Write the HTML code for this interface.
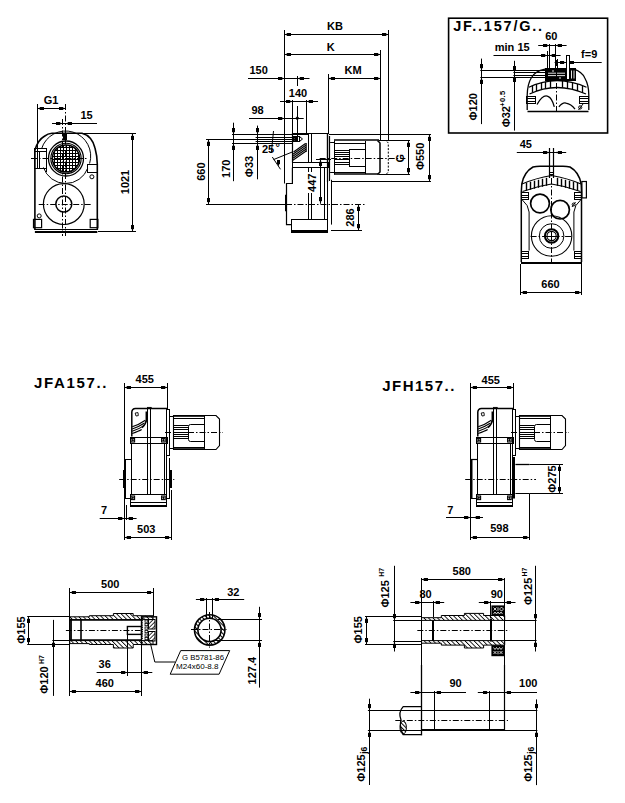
<!DOCTYPE html>
<html><head><meta charset="utf-8"><style>
html,body{margin:0;padding:0;background:#fff;}
svg{display:block;}
svg text{font-family:"Liberation Sans",sans-serif;fill:#000;stroke:none;}
.f{fill:#000;stroke:none;}
</style></head><body>
<svg width="625" height="803" viewBox="0 0 625 803">
<defs>
<pattern id="grid" width="3" height="3" patternUnits="userSpaceOnUse" x="0" y="0"><rect x="0" y="0" width="3" height="1" fill="#000"/><rect x="0" y="0" width="1" height="3" fill="#000"/></pattern>
<pattern id="hatch" width="3.2" height="3.2" patternUnits="userSpaceOnUse" patternTransform="rotate(-45)"><line x1="0" y1="0" x2="0" y2="3.2" stroke="#000" stroke-width="1.7"/></pattern>
<pattern id="hatch2" width="2.8" height="2.8" patternUnits="userSpaceOnUse" patternTransform="rotate(45)"><line x1="0" y1="0" x2="0" y2="2.8" stroke="#000" stroke-width="1.6"/></pattern>
<pattern id="hatch3" width="3" height="3" patternUnits="userSpaceOnUse" patternTransform="rotate(-45)"><line x1="0" y1="0" x2="0" y2="3" stroke="#000" stroke-width="1.9"/></pattern>
</defs>
<rect width="625" height="803" fill="#fff"/>
<g stroke="#000" stroke-width="1" fill="none" shape-rendering="auto">
<text x="51" y="104.0" font-size="11" text-anchor="middle" font-weight="bold">G1</text>
<line x1="37.5" y1="108.5" x2="65.5" y2="108.5"/>
<rect x="40.0" y="107.0" width="4.0" height="3.0" class="f" shape-rendering="crispEdges"/>
<polygon points="37.5,108.5 40.0,107.6 40.0,109.4" class="f"/>
<rect x="59.0" y="107.0" width="4.0" height="3.0" class="f" shape-rendering="crispEdges"/>
<polygon points="65.5,108.5 63.0,107.6 63.0,109.4" class="f"/>
<line x1="37.5" y1="104" x2="37.5" y2="150"/>
<text x="86.6" y="119.4" font-size="11" text-anchor="middle" font-weight="bold">15</text>
<line x1="52" y1="123.5" x2="97" y2="123.5"/>
<rect x="56.0" y="122.0" width="4.0" height="3.0" class="f" shape-rendering="crispEdges"/>
<polygon points="62.5,123.5 60.0,122.6 60.0,124.4" class="f"/>
<rect x="68.0" y="122.0" width="4.0" height="3.0" class="f" shape-rendering="crispEdges"/>
<polygon points="65.5,123.5 68.0,122.6 68.0,124.4" class="f"/>
<line x1="62.5" y1="119" x2="62.5" y2="236" stroke-dasharray="6 2 1.5 2"/>
<line x1="65.5" y1="104" x2="65.5" y2="236" stroke-dasharray="6 2 1.5 2"/>
<path d="M34.9,230 L34.9,150 Q38,140 44,136.5 Q48,133.5 52,133.3 L82,133.3 Q92,136 95,148 Q97.2,156 97.3,164 L97.3,230" stroke-width="1.6"/>
<path d="M41.6,148.7 A24,24 0 0 1 89.6,163.5"/>
<path d="M43.4,167.4 A23.5,23.5 0 0 0 87.8,168"/>
<rect x="34.5" y="148.5" width="12.0" height="20.0"/>
<line x1="37.5" y1="148.7" x2="37.5" y2="168.3"/>
<line x1="39.5" y1="151.1" x2="39.5" y2="168.3"/>
<line x1="34.9" y1="151.5" x2="46.4" y2="151.5"/>
<rect x="87.5" y="164.5" width="10.0" height="8.0"/>
<line x1="34.9" y1="168.5" x2="46.4" y2="168.5"/>
<line x1="46.5" y1="168.3" x2="46.5" y2="172"/>
<circle cx="66" cy="158.5" r="17.5" stroke-width="1.3"/>
<circle cx="66" cy="158.5" r="15.2" stroke-width="1.1"/>
<circle cx="66" cy="158.5" r="13.6" fill="url(#grid)" stroke="none" shape-rendering="crispEdges"/>
<circle cx="66" cy="158.5" r="13.6" stroke-width="1.5"/>
<rect x="63.5" y="133.5" width="3.0" height="6.0" fill="#000"/>
<line x1="31" y1="158.5" x2="87.2" y2="158.5" stroke-dasharray="6 2 1.5 2"/>
<circle cx="63.8" cy="204.1" r="20.4" stroke-width="1.2"/>
<circle cx="63.8" cy="204.1" r="8" stroke-width="1.5"/>
<line x1="38.7" y1="204.5" x2="91.9" y2="204.5" stroke-dasharray="6 2 1.5 2"/>
<rect x="33.5" y="219.4" width="8.1" height="8.3" stroke-width="1.2"/>
<rect x="90.2" y="219.4" width="7.7" height="8.3" stroke-width="1.2"/>
<line x1="34.9" y1="229.5" x2="97.3" y2="229.5"/>
<line x1="34.9" y1="232.0" x2="97.3" y2="232.0" stroke-width="2"/>
<circle cx="91.9" cy="176.8" r="2"/>
<circle cx="39.2" cy="215.9" r="2"/>
<line x1="66" y1="133.5" x2="136" y2="133.5"/>
<line x1="98" y1="231.5" x2="136" y2="231.5"/>
<line x1="132.5" y1="133" x2="132.5" y2="231.8"/>
<rect x="131.0" y="135.5" width="3.0" height="4.0" class="f" shape-rendering="crispEdges"/>
<polygon points="132.5,133.0 131.6,135.5 133.4,135.5" class="f"/>
<rect x="131.0" y="225.3" width="3.0" height="4.0" class="f" shape-rendering="crispEdges"/>
<polygon points="132.5,231.8 131.6,229.3 133.4,229.3" class="f"/>
<text transform="translate(125,182) rotate(-90)" x="0" y="4.0" font-size="11" text-anchor="middle" font-weight="bold">1021</text>
<text x="335" y="30.2" font-size="11" text-anchor="middle" font-weight="bold">KB</text>
<line x1="284.5" y1="34.5" x2="388.5" y2="34.5"/>
<rect x="287.0" y="33.0" width="4.0" height="3.0" class="f" shape-rendering="crispEdges"/>
<polygon points="284.5,34.5 287.0,33.6 287.0,35.4" class="f"/>
<rect x="382.0" y="33.0" width="4.0" height="3.0" class="f" shape-rendering="crispEdges"/>
<polygon points="388.5,34.5 386.0,33.6 386.0,35.4" class="f"/>
<text x="330.7" y="51.4" font-size="11" text-anchor="middle" font-weight="bold">K</text>
<line x1="284.5" y1="54.5" x2="380.6" y2="54.5"/>
<rect x="287.0" y="53.0" width="4.0" height="3.0" class="f" shape-rendering="crispEdges"/>
<polygon points="284.5,54.5 287.0,53.6 287.0,55.4" class="f"/>
<rect x="374.1" y="53.0" width="4.0" height="3.0" class="f" shape-rendering="crispEdges"/>
<polygon points="380.6,54.5 378.1,53.6 378.1,55.4" class="f"/>
<text x="353" y="74.3" font-size="11" text-anchor="middle" font-weight="bold">KM</text>
<line x1="328" y1="78.5" x2="380.6" y2="78.5"/>
<rect x="330.5" y="77.0" width="4.0" height="3.0" class="f" shape-rendering="crispEdges"/>
<polygon points="328.0,78.5 330.5,77.6 330.5,79.4" class="f"/>
<rect x="374.1" y="77.0" width="4.0" height="3.0" class="f" shape-rendering="crispEdges"/>
<polygon points="380.6,78.5 378.1,77.6 378.1,79.4" class="f"/>
<text x="258.6" y="74.2" font-size="11" text-anchor="middle" font-weight="bold">150</text>
<line x1="248" y1="78.5" x2="309.5" y2="78.5"/>
<rect x="278.0" y="77.0" width="4.0" height="3.0" class="f" shape-rendering="crispEdges"/>
<polygon points="284.5,78.5 282.0,77.6 282.0,79.4" class="f"/>
<rect x="299.8" y="77.0" width="4.0" height="3.0" class="f" shape-rendering="crispEdges"/>
<polygon points="297.3,78.5 299.8,77.6 299.8,79.4" class="f"/>
<text x="298" y="97.0" font-size="11" text-anchor="middle" font-weight="bold">140</text>
<line x1="280" y1="101.5" x2="318" y2="101.5"/>
<rect x="286.2" y="100.0" width="4.0" height="3.0" class="f" shape-rendering="crispEdges"/>
<polygon points="292.7,101.5 290.2,100.6 290.2,102.4" class="f"/>
<rect x="309.1" y="100.0" width="4.0" height="3.0" class="f" shape-rendering="crispEdges"/>
<polygon points="306.6,101.5 309.1,100.6 309.1,102.4" class="f"/>
<text x="257.6" y="114.3" font-size="11" text-anchor="middle" font-weight="bold">98</text>
<line x1="249" y1="118.5" x2="303.7" y2="118.5"/>
<rect x="278.0" y="117.0" width="4.0" height="3.0" class="f" shape-rendering="crispEdges"/>
<polygon points="284.5,118.5 282.0,117.6 282.0,119.4" class="f"/>
<circle cx="297.3" cy="118.2" r="1.2" fill="#000"/>
<line x1="284.5" y1="30" x2="284.5" y2="183.5"/>
<line x1="388.5" y1="30" x2="388.5" y2="140.5"/>
<line x1="380.5" y1="50" x2="380.5" y2="140.5"/>
<line x1="328.5" y1="74" x2="328.5" y2="134"/>
<line x1="292.5" y1="100" x2="292.5" y2="134"/>
<line x1="306.5" y1="100" x2="306.5" y2="134"/>
<line x1="297.5" y1="76" x2="297.5" y2="86"/>
<line x1="297.5" y1="106" x2="297.5" y2="141"/>
<line x1="206" y1="139.5" x2="296" y2="139.5"/>
<line x1="206" y1="204.5" x2="286" y2="204.5"/>
<line x1="208.5" y1="139.5" x2="208.5" y2="204.3"/>
<rect x="207.0" y="142.0" width="3.0" height="4.0" class="f" shape-rendering="crispEdges"/>
<polygon points="208.5,139.5 207.6,142.0 209.4,142.0" class="f"/>
<rect x="207.0" y="197.8" width="3.0" height="4.0" class="f" shape-rendering="crispEdges"/>
<polygon points="208.5,204.3 207.6,201.8 209.4,201.8" class="f"/>
<text transform="translate(200.6,171.6) rotate(-90)" x="0" y="4.0" font-size="11" text-anchor="middle" font-weight="bold">660</text>
<line x1="233.5" y1="122.7" x2="233.5" y2="181.2"/>
<rect x="232.0" y="128.0" width="3.0" height="4.0" class="f" shape-rendering="crispEdges"/>
<polygon points="233.5,134.5 232.6,132.0 234.4,132.0" class="f"/>
<rect x="232.0" y="146.0" width="3.0" height="4.0" class="f" shape-rendering="crispEdges"/>
<polygon points="233.5,143.5 232.6,146.0 234.4,146.0" class="f"/>
<text transform="translate(225.5,168.8) rotate(-90)" x="0" y="4.0" font-size="11" text-anchor="middle" font-weight="bold">170</text>
<line x1="257.5" y1="125.6" x2="257.5" y2="179.3"/>
<rect x="256.0" y="128.0" width="3.0" height="4.0" class="f" shape-rendering="crispEdges"/>
<polygon points="257.5,134.5 256.6,132.0 258.4,132.0" class="f"/>
<rect x="256.0" y="146.0" width="3.0" height="4.0" class="f" shape-rendering="crispEdges"/>
<polygon points="257.5,143.5 256.6,146.0 258.4,146.0" class="f"/>
<text transform="translate(248.6,166.5) rotate(-90)" x="0" y="4.0" font-size="11" text-anchor="middle" font-weight="bold">Φ33</text>
<line x1="232" y1="134.5" x2="308" y2="134.5" stroke-width="1.2"/>
<line x1="232" y1="143.5" x2="293" y2="143.5" stroke-width="1.2"/>
<line x1="255.6" y1="137.5" x2="296" y2="137.5"/>
<line x1="255.6" y1="141.5" x2="296" y2="141.5"/>
<rect x="293.5" y="136.5" width="6.0" height="5.0"/>
<rect x="294.5" y="137" width="2.5" height="4" stroke-width="0.5" fill="#000"/>
<path d="M299.5,136.5 L302.5,139 L299.5,141.5"/>
<text x="268" y="153.3" font-size="11" text-anchor="middle" font-weight="bold">25</text>
<text x="277.8" y="150.6" font-size="11" text-anchor="middle" font-weight="bold">°</text>
<line x1="273.5" y1="131" x2="271.3" y2="153"/>
<path d="M272.3,157 L280.5,169.3"/>
<rect x="277.0" y="160.0" width="3.0" height="4.0" class="f" shape-rendering="crispEdges"/>
<polygon points="278.5,166.5 277.6,164.0 279.4,164.0" class="f"/>
<line x1="273.5" y1="159.6" x2="292" y2="152.1"/>
<path d="M292.5,162.6 L292.5,133.5 L327.5,133.5 L327.5,162.6" stroke-width="1.2"/>
<line x1="308.5" y1="133.5" x2="308.5" y2="162.6"/>
<line x1="311.5" y1="133.5" x2="311.5" y2="162.6"/>
<path d="M292.5,160.5 L306.2,151 M292.5,158.5 L306.2,149 M292.5,156.5 L306.2,147 M292.5,154.5 L306.2,145 M293.5,152 L305.5,143.5 M306.2,143 L306.2,152" stroke-width="1.1"/>
<rect x="292.5" y="162.5" width="36.0" height="5.0"/>
<path d="M292.4,167.8 L292.4,183.5 L286.5,183.5 L286.5,224.6 L291,224.6" stroke-width="1.2"/>
<line x1="286.0" y1="194.7" x2="286.0" y2="211.2" stroke-width="2"/>
<line x1="327.5" y1="167.8" x2="327.5" y2="224.6"/>
<line x1="331.5" y1="179.8" x2="331.5" y2="224.6"/>
<line x1="308.5" y1="167.8" x2="308.5" y2="219"/>
<line x1="311.5" y1="167.8" x2="311.5" y2="219"/>
<line x1="324.5" y1="167.8" x2="324.5" y2="219"/>
<rect x="291.5" y="219.5" width="36.0" height="13.0"/>
<line x1="291" y1="231.0" x2="327.6" y2="231.0" stroke-width="2.2"/>
<line x1="286" y1="204.5" x2="365" y2="204.5" stroke-dasharray="6 2 1.5 2"/>
<line x1="327.5" y1="134" x2="327.5" y2="182.1" stroke-width="1.2"/>
<line x1="329.5" y1="136" x2="329.5" y2="181" stroke-width="1.2"/>
<line x1="330.1" y1="142.5" x2="334" y2="142.5"/>
<line x1="330.1" y1="172.5" x2="334" y2="172.5"/>
<line x1="334" y1="140.0" x2="379" y2="140.0" stroke-width="1.6"/>
<line x1="334" y1="174.0" x2="379" y2="174.0" stroke-width="1.6"/>
<line x1="334.5" y1="140.5" x2="334.5" y2="174.5"/>
<line x1="334.5" y1="143.5" x2="365.9" y2="143.5"/>
<line x1="334.5" y1="172.5" x2="365.9" y2="172.5"/>
<line x1="365.5" y1="141" x2="365.5" y2="174"/>
<path d="M377.5,140.5 L380,143 L380,172 L377.5,174.5" stroke-width="1.5"/>
<path d="M380.5,140.5 L386,140.5 L388.3,143 L388.3,172 L386,174.5 L380.5,174.5" stroke-dasharray="2 1.5"/>
<rect x="349.5" y="149.5" width="16.0" height="17.0"/>
<line x1="334.6" y1="150.5" x2="349.7" y2="150.5"/>
<line x1="334.6" y1="152.5" x2="349.7" y2="152.5"/>
<line x1="334.6" y1="154.5" x2="349.7" y2="154.5"/>
<line x1="334.6" y1="156.5" x2="349.7" y2="156.5"/>
<line x1="334.6" y1="159.5" x2="349.7" y2="159.5"/>
<line x1="334.6" y1="162.5" x2="349.7" y2="162.5"/>
<line x1="334.6" y1="164.5" x2="349.7" y2="164.5"/>
<line x1="319.7" y1="158.5" x2="405.4" y2="158.5" stroke-dasharray="6 2 1.5 2"/>
<line x1="329" y1="134.5" x2="431" y2="134.5"/>
<line x1="331" y1="181.5" x2="431" y2="181.5"/>
<line x1="408.5" y1="140.5" x2="408.5" y2="174.5"/>
<rect x="407.0" y="143.0" width="3.0" height="4.0" class="f" shape-rendering="crispEdges"/>
<polygon points="408.5,140.5 407.6,143.0 409.4,143.0" class="f"/>
<rect x="407.0" y="168.0" width="3.0" height="4.0" class="f" shape-rendering="crispEdges"/>
<polygon points="408.5,174.5 407.6,172.0 409.4,172.0" class="f"/>
<line x1="379" y1="140.5" x2="410" y2="140.5"/>
<line x1="379" y1="174.5" x2="410" y2="174.5"/>
<text transform="translate(399.7,158.1) rotate(-90)" x="0" y="4.0" font-size="11" text-anchor="middle" font-weight="bold">G</text>
<line x1="429.5" y1="134" x2="429.5" y2="181.4"/>
<rect x="428.0" y="136.5" width="3.0" height="4.0" class="f" shape-rendering="crispEdges"/>
<polygon points="429.5,134.0 428.6,136.5 430.4,136.5" class="f"/>
<rect x="428.0" y="174.9" width="3.0" height="4.0" class="f" shape-rendering="crispEdges"/>
<polygon points="429.5,181.4 428.6,178.9 430.4,178.9" class="f"/>
<text transform="translate(420.4,156.4) rotate(-90)" x="0" y="4.0" font-size="11" text-anchor="middle" font-weight="bold">Φ550</text>
<line x1="320.5" y1="158.9" x2="320.5" y2="203.7"/>
<rect x="319.0" y="161.7" width="3.0" height="4.0" class="f" shape-rendering="crispEdges"/>
<polygon points="320.5,159.2 319.6,161.7 321.4,161.7" class="f"/>
<rect x="319.0" y="197.2" width="3.0" height="4.0" class="f" shape-rendering="crispEdges"/>
<polygon points="320.5,203.7 319.6,201.2 321.4,201.2" class="f"/>
<line x1="316" y1="159.5" x2="331" y2="159.5"/>
<rect x="307" y="172" width="9" height="21" fill="#fff" stroke="none"/>
<text transform="translate(311.9,182.8) rotate(-90)" x="0" y="4.0" font-size="11" text-anchor="middle" font-weight="bold">447</text>
<line x1="331" y1="230.5" x2="362" y2="230.5"/>
<line x1="358.5" y1="204.3" x2="358.5" y2="230.5"/>
<rect x="357.0" y="206.8" width="3.0" height="4.0" class="f" shape-rendering="crispEdges"/>
<polygon points="358.5,204.3 357.6,206.8 359.4,206.8" class="f"/>
<rect x="357.0" y="224.0" width="3.0" height="4.0" class="f" shape-rendering="crispEdges"/>
<polygon points="358.5,230.5 357.6,228.0 359.4,228.0" class="f"/>
<text transform="translate(349.6,217.5) rotate(-90)" x="0" y="4.0" font-size="11" text-anchor="middle" font-weight="bold">286</text>
<rect x="448.6" y="18.2" width="159.0" height="114.8" stroke-width="1.6"/>
<text x="498.6" y="31.2" font-size="14.5" text-anchor="middle" letter-spacing="1.8" style="stroke-width:0.8px" font-weight="bold">JF..157/G..</text>
<text x="551.3" y="39.8" font-size="11" text-anchor="middle" font-weight="bold">60</text>
<line x1="538.2" y1="45.5" x2="566.6" y2="45.5"/>
<rect x="542.9" y="44.0" width="4.0" height="3.0" class="f" shape-rendering="crispEdges"/>
<polygon points="549.4,45.5 546.9,44.6 546.9,46.4" class="f"/>
<rect x="558.1" y="44.0" width="4.0" height="3.0" class="f" shape-rendering="crispEdges"/>
<polygon points="555.6,45.5 558.1,44.6 558.1,46.4" class="f"/>
<text x="512.2" y="50.8" font-size="11" text-anchor="middle" font-weight="bold">min 15</text>
<line x1="493.5" y1="55.5" x2="560.6" y2="55.5"/>
<rect x="540.9" y="54.0" width="4.0" height="3.0" class="f" shape-rendering="crispEdges"/>
<polygon points="547.4,55.5 544.9,54.6 544.9,56.4" class="f"/>
<rect x="551.9" y="54.0" width="4.0" height="3.0" class="f" shape-rendering="crispEdges"/>
<polygon points="549.4,55.5 551.9,54.6 551.9,56.4" class="f"/>
<text x="589.2" y="58.1" font-size="11" text-anchor="middle" font-weight="bold">f=9</text>
<line x1="554.6" y1="62.5" x2="601.7" y2="62.5"/>
<rect x="559.7" y="61.0" width="4.0" height="3.0" class="f" shape-rendering="crispEdges"/>
<polygon points="566.2,62.5 563.7,61.6 563.7,63.4" class="f"/>
<rect x="569.5" y="61.0" width="4.0" height="3.0" class="f" shape-rendering="crispEdges"/>
<polygon points="567.0,62.5 569.5,61.6 569.5,63.4" class="f"/>
<line x1="547.5" y1="51" x2="547.5" y2="68.4"/>
<line x1="549.5" y1="44" x2="549.5" y2="68.4"/>
<line x1="555.5" y1="44" x2="555.5" y2="68.4"/>
<line x1="557.5" y1="59" x2="557.5" y2="68.4"/>
<line x1="480.3" y1="70.5" x2="545.8" y2="70.5"/>
<line x1="480.3" y1="77.5" x2="545.8" y2="77.5"/>
<line x1="513.4" y1="72.5" x2="545.8" y2="72.5"/>
<line x1="513.4" y1="75.5" x2="545.8" y2="75.5"/>
<line x1="481.5" y1="58.6" x2="481.5" y2="124.1"/>
<rect x="480.0" y="63.9" width="3.0" height="4.0" class="f" shape-rendering="crispEdges"/>
<polygon points="481.5,70.4 480.6,67.9 482.4,67.9" class="f"/>
<rect x="480.0" y="79.7" width="3.0" height="4.0" class="f" shape-rendering="crispEdges"/>
<polygon points="481.5,77.2 480.6,79.7 482.4,79.7" class="f"/>
<line x1="514.5" y1="60.8" x2="514.5" y2="130.6"/>
<rect x="513.0" y="66.3" width="3.0" height="4.0" class="f" shape-rendering="crispEdges"/>
<polygon points="514.5,72.8 513.6,70.3 515.4,70.3" class="f"/>
<rect x="513.0" y="77.7" width="3.0" height="4.0" class="f" shape-rendering="crispEdges"/>
<polygon points="514.5,75.2 513.6,77.7 515.4,77.7" class="f"/>
<text transform="translate(473.4,106.8) rotate(-90)" x="0" y="4.0" font-size="11" text-anchor="middle" font-weight="bold">Φ120</text>
<text transform="translate(506.1,116.7) rotate(-90)" x="0" y="4.0" font-size="11" text-anchor="middle" font-weight="bold">Φ32</text>
<text transform="translate(502.2,98.6) rotate(-90)" x="0" y="2.7" font-size="7.5" text-anchor="middle" letter-spacing="0.4" font-weight="bold">+0.5</text>
<path d="M527.2,110 L527.2,95 Q527.5,84 531.2,78 Q535,71 545,69.2 L574.2,69.2 Q582,72 584.8,78 Q588.8,85 588.8,95 L588.8,110" stroke-width="1.3"/>
<line x1="527.5" y1="111.5" x2="588.5" y2="111.5" stroke-width="1.3"/>
<rect x="545.5" y="68.5" width="30.0" height="12.0" fill="#000"/>
<path d="M548,73.2 H565 M548,75.6 H565 M571.5,70.5 V78.5 M574,70.5 V78.5 M553,70 V72 M560,77 V79" stroke="#fff" stroke-width="0.9"/>
<rect x="566.5" y="55.5" width="3.0" height="24.0" fill="#fff"/>
<path d="M528.9,87.2 Q556.6,74 586.5,87.2" stroke-width="1.2"/>
<path d="M529.5,94 Q556.6,81 586,94" stroke-width="1.3"/>
<line x1="532.5" y1="85.5" x2="532.5" y2="92.5" stroke-width="1.3"/>
<line x1="536.5" y1="84.0" x2="536.5" y2="91.0" stroke-width="1.3"/>
<line x1="541.5" y1="82.6" x2="541.5" y2="89.6" stroke-width="1.3"/>
<line x1="545.5" y1="81.6" x2="545.5" y2="88.6" stroke-width="1.3"/>
<line x1="550.5" y1="80.9" x2="550.5" y2="87.9" stroke-width="1.3"/>
<line x1="562.5" y1="80.7" x2="562.5" y2="87.7" stroke-width="1.3"/>
<line x1="567.5" y1="81.4" x2="567.5" y2="88.4" stroke-width="1.3"/>
<line x1="572.5" y1="82.5" x2="572.5" y2="89.5" stroke-width="1.3"/>
<line x1="577.5" y1="84.0" x2="577.5" y2="91.0" stroke-width="1.3"/>
<line x1="582.5" y1="86.0" x2="582.5" y2="93.0" stroke-width="1.3"/>
<rect x="526.5" y="96.5" width="9.0" height="7.0"/>
<line x1="526.6" y1="98.5" x2="535.2" y2="98.5"/>
<line x1="526.6" y1="101.5" x2="535.2" y2="101.5"/>
<rect x="579.5" y="96.5" width="9.0" height="7.0"/>
<line x1="579.6" y1="98.5" x2="588.2" y2="98.5"/>
<line x1="579.6" y1="101.5" x2="588.2" y2="101.5"/>
<path d="M537,104.5 Q543,94 548,96.4 Q552,98 554.3,106.8" stroke-width="1.3"/>
<path d="M558.9,106.8 Q563,102 566,103.2 Q571,104 575,109.1" stroke-width="1.3"/>
<circle cx="580.2" cy="107.4" r="1.6"/>
<line x1="578.5" y1="110" x2="583" y2="104"/>
<line x1="556.5" y1="60" x2="556.5" y2="114" stroke-dasharray="6 2 1.5 2"/>
<text x="525.8" y="148.0" font-size="11" text-anchor="middle" font-weight="bold">45</text>
<line x1="516.8" y1="152.5" x2="566.2" y2="152.5"/>
<rect x="543.3" y="151.0" width="4.0" height="3.0" class="f" shape-rendering="crispEdges"/>
<polygon points="549.8,152.5 547.3,151.6 547.3,153.4" class="f"/>
<rect x="557.5" y="151.0" width="4.0" height="3.0" class="f" shape-rendering="crispEdges"/>
<polygon points="555.0,152.5 557.5,151.6 557.5,153.4" class="f"/>
<line x1="549.5" y1="148" x2="549.5" y2="178" stroke-width="1.2"/>
<line x1="553.5" y1="148" x2="553.5" y2="178" stroke-width="1.2"/>
<line x1="549.5" y1="172.5" x2="553.9" y2="172.5"/>
<line x1="549.5" y1="174.5" x2="553.9" y2="174.5"/>
<path d="M521.3,262 L521.3,192 L521.8,184 Q524,172 533,167 Q536,166.2 540,166.2 L563,166.2 Q567,166.2 570,167 Q579,172 581.2,184 L581.5,192 L581.5,262" stroke-width="1.5"/>
<path d="M522,184 Q536,178 551.5,175.5 Q567,178 581,184" stroke-width="1.1"/>
<path d="M522.5,191.5 Q537,186 551.5,184 Q566,186 580.5,191.5" stroke-width="1.1"/>
<line x1="526.5" y1="182.7" x2="526.5" y2="190.7" stroke-width="1.4"/>
<line x1="530.5" y1="181.7" x2="530.5" y2="189.7" stroke-width="1.4"/>
<line x1="534.5" y1="180.7" x2="534.5" y2="188.7" stroke-width="1.4"/>
<line x1="538.5" y1="179.8" x2="538.5" y2="187.8" stroke-width="1.4"/>
<line x1="542.5" y1="178.8" x2="542.5" y2="186.8" stroke-width="1.4"/>
<line x1="546.5" y1="177.8" x2="546.5" y2="185.8" stroke-width="1.4"/>
<line x1="557.5" y1="177.8" x2="557.5" y2="185.8" stroke-width="1.4"/>
<line x1="561.5" y1="178.8" x2="561.5" y2="186.8" stroke-width="1.4"/>
<line x1="565.5" y1="179.8" x2="565.5" y2="187.8" stroke-width="1.4"/>
<line x1="569.5" y1="180.7" x2="569.5" y2="188.7" stroke-width="1.4"/>
<line x1="573.5" y1="181.7" x2="573.5" y2="189.7" stroke-width="1.4"/>
<line x1="577.5" y1="182.7" x2="577.5" y2="190.7" stroke-width="1.4"/>
<rect x="521.5" y="192.5" width="7.0" height="7.0"/>
<line x1="521.6" y1="195.5" x2="528.5" y2="195.5"/>
<line x1="521.6" y1="197.5" x2="528.5" y2="197.5"/>
<rect x="574.5" y="192.5" width="7.0" height="7.0"/>
<line x1="574.4" y1="195.5" x2="581.3" y2="195.5"/>
<line x1="574.4" y1="197.5" x2="581.3" y2="197.5"/>
<rect x="521.5" y="251.5" width="7.0" height="7.0"/>
<line x1="521.6" y1="253.5" x2="528.5" y2="253.5"/>
<line x1="521.6" y1="256.5" x2="528.5" y2="256.5"/>
<rect x="574.5" y="251.5" width="7.0" height="7.0"/>
<line x1="574.4" y1="253.5" x2="581.3" y2="253.5"/>
<line x1="574.4" y1="256.5" x2="581.3" y2="256.5"/>
<path d="M522.4,200 Q528.5,205 529.1,212 L529.1,250.6"/>
<path d="M580.6,200 Q574.5,205 573.9,212 L573.9,250.6"/>
<circle cx="540" cy="203.5" r="9.4" stroke-width="1.7"/>
<circle cx="560.1" cy="209.7" r="9.3" stroke-width="1.7"/>
<circle cx="551.6" cy="236" r="20.2" stroke-width="1.1"/>
<circle cx="551.6" cy="236" r="12.3"/>
<circle cx="551.6" cy="236" r="6.7" stroke-width="2"/>
<circle cx="551.6" cy="236" r="4.6" stroke-width="1.1"/>
<line x1="547" y1="236.5" x2="556.2" y2="236.5"/>
<line x1="551.5" y1="231.4" x2="551.5" y2="240.6"/>
<line x1="530.6" y1="236.5" x2="573" y2="236.5" stroke-dasharray="6 2 1.5 2"/>
<line x1="551.5" y1="178" x2="551.5" y2="262" stroke-dasharray="6 2 1.5 2"/>
<rect x="581.9" y="181.5" width="4.5" height="16.4" stroke-width="1.2"/>
<circle cx="573.7" cy="204.5" r="1.5"/>
<line x1="572" y1="207" x2="575.5" y2="202"/>
<line x1="521" y1="263.0" x2="582" y2="263.0" stroke-width="2"/>
<line x1="520.5" y1="264" x2="520.5" y2="295"/>
<line x1="581.5" y1="264" x2="581.5" y2="295"/>
<line x1="520.6" y1="292.5" x2="581.9" y2="292.5"/>
<rect x="523.1" y="291.0" width="4.0" height="3.0" class="f" shape-rendering="crispEdges"/>
<polygon points="520.6,292.5 523.1,291.6 523.1,293.4" class="f"/>
<rect x="575.4" y="291.0" width="4.0" height="3.0" class="f" shape-rendering="crispEdges"/>
<polygon points="581.9,292.5 579.4,291.6 579.4,293.4" class="f"/>
<text x="550.5" y="288.2" font-size="11" text-anchor="middle" font-weight="bold">660</text>
<text x="71" y="388.2" font-size="15" text-anchor="middle" letter-spacing="1.65" style="stroke-width:0.8px" font-weight="bold">JFA157..</text>
<text x="419" y="390.7" font-size="15" text-anchor="middle" letter-spacing="1.5" style="stroke-width:0.8px" font-weight="bold">JFH157..</text>
<path d="M131.8,436.4 L131.8,412 Q132,408.6 135.5,408.4 L167,408.4" stroke-width="1.5"/>
<rect x="147.4" y="407.2" width="4.0" height="1.4" stroke-width="0.5" fill="#000"/>
<line x1="147.5" y1="407.5" x2="147.5" y2="494"/>
<line x1="150.5" y1="407.5" x2="150.5" y2="494"/>
<path d="M135.2,413 L138,412.6 L138.3,415.6 L136,416 Z" stroke-width="0.9"/>
<path d="M132.2,426.8 Q139,424.6 145.3,420.2" stroke-width="1.1"/>
<path d="M132.2,429.0 Q139,426.8 144.1,423.3" stroke-width="1.1"/>
<path d="M132.2,431.2 Q139,429.0 142.9,426.4" stroke-width="1.1"/>
<path d="M132.2,433.4 Q139,431.2 141.7,429.5" stroke-width="1.1"/>
<path d="M146.4,411.5 L146.4,420 Q146,424 142,427.5" stroke-width="1.7"/>
<rect x="130.5" y="437.5" width="37.0" height="6.0"/>
<line x1="131.5" y1="443.8" x2="131.5" y2="494.5"/>
<line x1="164.5" y1="443.8" x2="164.5" y2="494.5"/>
<line x1="166.5" y1="443" x2="166.5" y2="458"/>
<rect x="130.5" y="494.5" width="36.0" height="12.0"/>
<line x1="130" y1="506.0" x2="166.4" y2="506.0" stroke-width="2"/>
<line x1="130" y1="502.5" x2="166.4" y2="502.5"/>
<rect x="131.0" y="438.4" width="3.6" height="3.6" stroke-width="1.1"/>
<circle cx="132.8" cy="440.2" r="0.7" fill="#000"/>
<rect x="161.6" y="438.4" width="3.6" height="3.6" stroke-width="1.1"/>
<circle cx="163.4" cy="440.2" r="0.7" fill="#000"/>
<rect x="131.0" y="496.0" width="3.6" height="3.6" stroke-width="1.1"/>
<circle cx="132.8" cy="497.8" r="0.7" fill="#000"/>
<rect x="161.6" y="496.0" width="3.6" height="3.6" stroke-width="1.1"/>
<circle cx="163.4" cy="497.8" r="0.7" fill="#000"/>
<line x1="166.5" y1="409" x2="166.5" y2="456"/>
<line x1="169.5" y1="409" x2="169.5" y2="456"/>
<line x1="166.6" y1="409.5" x2="169.2" y2="409.5"/>
<line x1="166.6" y1="455.5" x2="169.2" y2="455.5"/>
<line x1="169.5" y1="416.5" x2="173.2" y2="416.5"/>
<line x1="169.5" y1="448.5" x2="173.2" y2="448.5"/>
<path d="M173.5,415.5 L216,415.5 L219.5,419 L219.5,445.5 L216,449.5 L173.5,449.5 Z" stroke-width="1.1"/>
<line x1="173.5" y1="416.0" x2="204.5" y2="416.0" stroke-width="1.6"/>
<line x1="173.5" y1="449.0" x2="204.5" y2="449.0" stroke-width="1.6"/>
<line x1="173.5" y1="418.5" x2="204.5" y2="418.5"/>
<line x1="173.5" y1="447.5" x2="204.5" y2="447.5"/>
<line x1="204.5" y1="415.5" x2="204.5" y2="449.5"/>
<path d="M204.5,424.5 L190.5,424.5 Q188.5,424.5 188.5,426.5 L188.5,439.5 Q188.5,441.5 190.5,441.5 L204.5,441.5"/>
<line x1="174" y1="425.5" x2="188.5" y2="425.5"/>
<line x1="174" y1="427.5" x2="188.5" y2="427.5"/>
<line x1="174" y1="429.5" x2="188.5" y2="429.5"/>
<line x1="174" y1="432.5" x2="188.5" y2="432.5"/>
<line x1="174" y1="434.5" x2="188.5" y2="434.5"/>
<line x1="174" y1="436.5" x2="188.5" y2="436.5"/>
<line x1="174" y1="438.5" x2="188.5" y2="438.5"/>
<line x1="165" y1="432.5" x2="223" y2="432.5" stroke-dasharray="6 2 1.5 2"/>
<line x1="119.2" y1="479.5" x2="174.3" y2="479.5" stroke-dasharray="6 2 1.5 2"/>
<path d="M477.8,436.4 L477.8,412 Q478,408.6 481.5,408.4 L513,408.4" stroke-width="1.5"/>
<rect x="493.4" y="407.2" width="4.0" height="1.4" stroke-width="0.5" fill="#000"/>
<line x1="493.5" y1="407.5" x2="493.5" y2="494"/>
<line x1="496.5" y1="407.5" x2="496.5" y2="494"/>
<path d="M481.2,413 L484,412.6 L484.3,415.6 L482,416 Z" stroke-width="0.9"/>
<path d="M478.2,426.8 Q485,424.6 491.3,420.2" stroke-width="1.1"/>
<path d="M478.2,429.0 Q485,426.8 490.1,423.3" stroke-width="1.1"/>
<path d="M478.2,431.2 Q485,429.0 488.9,426.4" stroke-width="1.1"/>
<path d="M478.2,433.4 Q485,431.2 487.7,429.5" stroke-width="1.1"/>
<path d="M492.4,411.5 L492.4,420 Q492,424 488,427.5" stroke-width="1.7"/>
<rect x="476.5" y="437.5" width="37.0" height="6.0"/>
<line x1="477.5" y1="443.8" x2="477.5" y2="494.5"/>
<line x1="510.5" y1="443.8" x2="510.5" y2="494.5"/>
<line x1="512.5" y1="443" x2="512.5" y2="458"/>
<rect x="476.5" y="494.5" width="36.0" height="12.0"/>
<line x1="476" y1="506.0" x2="512.4" y2="506.0" stroke-width="2"/>
<line x1="476" y1="502.5" x2="512.4" y2="502.5"/>
<rect x="477.0" y="438.4" width="3.6" height="3.6" stroke-width="1.1"/>
<circle cx="478.8" cy="440.2" r="0.7" fill="#000"/>
<rect x="507.6" y="438.4" width="3.6" height="3.6" stroke-width="1.1"/>
<circle cx="509.4" cy="440.2" r="0.7" fill="#000"/>
<rect x="477.0" y="496.0" width="3.6" height="3.6" stroke-width="1.1"/>
<circle cx="478.8" cy="497.8" r="0.7" fill="#000"/>
<rect x="507.6" y="496.0" width="3.6" height="3.6" stroke-width="1.1"/>
<circle cx="509.4" cy="497.8" r="0.7" fill="#000"/>
<line x1="512.5" y1="409" x2="512.5" y2="456"/>
<line x1="515.5" y1="409" x2="515.5" y2="456"/>
<line x1="512.6" y1="409.5" x2="515.2" y2="409.5"/>
<line x1="512.6" y1="455.5" x2="515.2" y2="455.5"/>
<line x1="515.5" y1="416.5" x2="519.2" y2="416.5"/>
<line x1="515.5" y1="448.5" x2="519.2" y2="448.5"/>
<path d="M519.5,415.5 L562,415.5 L565.5,419 L565.5,445.5 L562,449.5 L519.5,449.5 Z" stroke-width="1.1"/>
<line x1="519.5" y1="416.0" x2="550.5" y2="416.0" stroke-width="1.6"/>
<line x1="519.5" y1="449.0" x2="550.5" y2="449.0" stroke-width="1.6"/>
<line x1="519.5" y1="418.5" x2="550.5" y2="418.5"/>
<line x1="519.5" y1="447.5" x2="550.5" y2="447.5"/>
<line x1="550.5" y1="415.5" x2="550.5" y2="449.5"/>
<path d="M550.5,424.5 L536.5,424.5 Q534.5,424.5 534.5,426.5 L534.5,439.5 Q534.5,441.5 536.5,441.5 L550.5,441.5"/>
<line x1="520" y1="425.5" x2="534.5" y2="425.5"/>
<line x1="520" y1="427.5" x2="534.5" y2="427.5"/>
<line x1="520" y1="429.5" x2="534.5" y2="429.5"/>
<line x1="520" y1="432.5" x2="534.5" y2="432.5"/>
<line x1="520" y1="434.5" x2="534.5" y2="434.5"/>
<line x1="520" y1="436.5" x2="534.5" y2="436.5"/>
<line x1="520" y1="438.5" x2="534.5" y2="438.5"/>
<line x1="511" y1="432.5" x2="569" y2="432.5" stroke-dasharray="6 2 1.5 2"/>
<line x1="465.2" y1="479.5" x2="536" y2="479.5" stroke-dasharray="6 2 1.5 2"/>
<line x1="125.5" y1="459" x2="125.5" y2="499"/>
<rect x="123" y="470" width="3" height="18" class="f"/>
<line x1="125.5" y1="459.5" x2="131.5" y2="459.5"/>
<line x1="125.5" y1="498.5" x2="131.5" y2="498.5"/>
<line x1="166.5" y1="456" x2="166.5" y2="499"/>
<line x1="169.5" y1="458" x2="169.5" y2="499"/>
<rect x="169" y="470" width="3" height="18" class="f"/>
<line x1="166.5" y1="498.5" x2="169.5" y2="498.5"/>
<line x1="124.5" y1="383" x2="124.5" y2="540"/>
<line x1="167.5" y1="383" x2="167.5" y2="409"/>
<line x1="124.5" y1="387.5" x2="167.6" y2="387.5"/>
<rect x="127.0" y="386.0" width="4.0" height="3.0" class="f" shape-rendering="crispEdges"/>
<polygon points="124.5,387.5 127.0,386.6 127.0,388.4" class="f"/>
<rect x="161.1" y="386.0" width="4.0" height="3.0" class="f" shape-rendering="crispEdges"/>
<polygon points="167.6,387.5 165.1,386.6 165.1,388.4" class="f"/>
<text x="144.7" y="383.4" font-size="11" text-anchor="middle" font-weight="bold">455</text>
<text x="104" y="514.0" font-size="11" text-anchor="middle" font-weight="bold">7</text>
<line x1="99.7" y1="518.5" x2="136.6" y2="518.5"/>
<rect x="118.0" y="517.0" width="4.0" height="3.0" class="f" shape-rendering="crispEdges"/>
<polygon points="124.5,518.5 122.0,517.6 122.0,519.4" class="f"/>
<rect x="129.0" y="517.0" width="4.0" height="3.0" class="f" shape-rendering="crispEdges"/>
<polygon points="126.5,518.5 129.0,517.6 129.0,519.4" class="f"/>
<line x1="126.5" y1="505" x2="126.5" y2="520"/>
<line x1="171.5" y1="490" x2="171.5" y2="540"/>
<line x1="124.5" y1="537.5" x2="171" y2="537.5"/>
<rect x="127.0" y="536.0" width="4.0" height="3.0" class="f" shape-rendering="crispEdges"/>
<polygon points="124.5,537.5 127.0,536.6 127.0,538.4" class="f"/>
<rect x="164.5" y="536.0" width="4.0" height="3.0" class="f" shape-rendering="crispEdges"/>
<polygon points="171.0,537.5 168.5,536.6 168.5,538.4" class="f"/>
<text x="146.3" y="533.2" font-size="11" text-anchor="middle" font-weight="bold">503</text>
<rect x="470" y="459" width="2.5" height="40" class="f"/>
<line x1="470.5" y1="459.5" x2="477.5" y2="459.5" stroke-width="1.2"/>
<line x1="470.5" y1="498.5" x2="477.5" y2="498.5"/>
<line x1="512.5" y1="456" x2="512.5" y2="499"/>
<line x1="514.0" y1="457" x2="514.0" y2="498.5" stroke-width="2"/>
<line x1="515.4" y1="464.5" x2="529.5" y2="464.5" stroke-width="1.3"/>
<line x1="515.4" y1="493.5" x2="529.5" y2="493.5"/>
<line x1="529.5" y1="464.5" x2="563" y2="464.5"/>
<line x1="529.5" y1="493.5" x2="563" y2="493.5"/>
<line x1="529.5" y1="493.5" x2="529.5" y2="540"/>
<line x1="559.5" y1="464.7" x2="559.5" y2="493.5"/>
<rect x="558.0" y="467.0" width="3.0" height="4.0" class="f" shape-rendering="crispEdges"/>
<polygon points="559.5,464.5 558.6,467.0 560.4,467.0" class="f"/>
<rect x="558.0" y="487.0" width="3.0" height="4.0" class="f" shape-rendering="crispEdges"/>
<polygon points="559.5,493.5 558.6,491.0 560.4,491.0" class="f"/>
<text transform="translate(552.2,479) rotate(-90)" x="0" y="4.0" font-size="11" text-anchor="middle" font-weight="bold">Φ275</text>
<line x1="470.5" y1="383" x2="470.5" y2="540"/>
<line x1="513.5" y1="383" x2="513.5" y2="409"/>
<line x1="470.6" y1="387.5" x2="513.4" y2="387.5"/>
<rect x="473.1" y="386.0" width="4.0" height="3.0" class="f" shape-rendering="crispEdges"/>
<polygon points="470.6,387.5 473.1,386.6 473.1,388.4" class="f"/>
<rect x="506.9" y="386.0" width="4.0" height="3.0" class="f" shape-rendering="crispEdges"/>
<polygon points="513.4,387.5 510.9,386.6 510.9,388.4" class="f"/>
<text x="490.7" y="383.9" font-size="11" text-anchor="middle" font-weight="bold">455</text>
<text x="450.3" y="514.3" font-size="11" text-anchor="middle" font-weight="bold">7</text>
<line x1="446" y1="517.5" x2="483" y2="517.5"/>
<rect x="464.1" y="516.0" width="4.0" height="3.0" class="f" shape-rendering="crispEdges"/>
<polygon points="470.6,517.5 468.1,516.6 468.1,518.4" class="f"/>
<rect x="475.9" y="516.0" width="4.0" height="3.0" class="f" shape-rendering="crispEdges"/>
<polygon points="473.4,517.5 475.9,516.6 475.9,518.4" class="f"/>
<line x1="470.6" y1="537.5" x2="529.5" y2="537.5"/>
<rect x="473.1" y="536.0" width="4.0" height="3.0" class="f" shape-rendering="crispEdges"/>
<polygon points="470.6,537.5 473.1,536.6 473.1,538.4" class="f"/>
<rect x="523.0" y="536.0" width="4.0" height="3.0" class="f" shape-rendering="crispEdges"/>
<polygon points="529.5,537.5 527.0,536.6 527.0,538.4" class="f"/>
<text x="499.4" y="532.4" font-size="11" text-anchor="middle" font-weight="bold">598</text>
<text x="110.2" y="587.5" font-size="11" text-anchor="middle" font-weight="bold">500</text>
<line x1="69.5" y1="588" x2="69.5" y2="696"/>
<line x1="153.5" y1="588" x2="153.5" y2="616"/>
<line x1="69.8" y1="592.5" x2="153" y2="592.5"/>
<rect x="72.3" y="591.0" width="4.0" height="3.0" class="f" shape-rendering="crispEdges"/>
<polygon points="69.8,592.5 72.3,591.6 72.3,593.4" class="f"/>
<rect x="146.5" y="591.0" width="4.0" height="3.0" class="f" shape-rendering="crispEdges"/>
<polygon points="153.0,592.5 150.5,591.6 150.5,593.4" class="f"/>
<path d="M69.8,616.8 L89.4,616.8 L89.4,615.7 L113.4,615.7 L113.4,613.5 L133.2,613.5 L133.2,615.7 L153,615.7 L153,619.6 L69.8,619.6 Z" fill="url(#hatch)"/>
<path d="M69.8,643.6 L89.4,643.6 L89.4,644.5 L113.4,644.5 L113.4,648 L133.2,648 L133.2,644.5 L153,644.5 L153,640.6 L69.8,640.6 Z" fill="url(#hatch)"/>
<line x1="69.8" y1="620.0" x2="141.5" y2="620.0" stroke-width="1.6"/>
<line x1="69.8" y1="640.0" x2="141.5" y2="640.0" stroke-width="1.6"/>
<line x1="71.0" y1="619.6" x2="71.0" y2="640.6" stroke-width="1.8"/>
<line x1="81.0" y1="619.6" x2="81.0" y2="640.6" stroke-width="1.6"/>
<line x1="65.9" y1="630.5" x2="140.6" y2="630.5" stroke-dasharray="6 2 1.5 2"/>
<rect x="127.4" y="626.5" width="14.1" height="7.9" stroke-width="1.4"/>
<rect x="141.5" y="616.8" width="15.0" height="27.7" stroke-width="1.4"/>
<rect x="148.5" y="619.5" width="6.5" height="9.5" fill="url(#hatch2)" stroke-width="1"/>
<rect x="148.5" y="631.5" width="6.5" height="9.5" fill="url(#hatch2)" stroke-width="1"/>
<line x1="142.5" y1="618" x2="142.5" y2="643" stroke-dasharray="1 1.2"/>
<rect x="145" y="620" width="2.8" height="2.2" stroke-width="0.8"/>
<rect x="145" y="623.5" width="2.8" height="2.2" stroke-width="0.8"/>
<rect x="145" y="627" width="2.8" height="2.2" stroke-width="0.8"/>
<rect x="145" y="630.5" width="2.8" height="2.2" stroke-width="0.8"/>
<rect x="145" y="634" width="2.8" height="2.2" stroke-width="0.8"/>
<rect x="145" y="637.5" width="2.8" height="2.2" stroke-width="0.8"/>
<line x1="27.2" y1="616.5" x2="69.8" y2="616.5"/>
<line x1="27.2" y1="644.5" x2="69.8" y2="644.5"/>
<line x1="28.5" y1="616.2" x2="28.5" y2="644.2"/>
<rect x="27.0" y="618.7" width="3.0" height="4.0" class="f" shape-rendering="crispEdges"/>
<polygon points="28.5,616.2 27.6,618.7 29.4,618.7" class="f"/>
<rect x="27.0" y="637.7" width="3.0" height="4.0" class="f" shape-rendering="crispEdges"/>
<polygon points="28.5,644.2 27.6,641.7 29.4,641.7" class="f"/>
<text transform="translate(20.6,630) rotate(-90)" x="0" y="4.0" font-size="11" text-anchor="middle" font-weight="bold">Φ155</text>
<line x1="52.3" y1="640.5" x2="69.8" y2="640.5"/>
<line x1="53.5" y1="619.9" x2="53.5" y2="695.9"/>
<rect x="52.0" y="643.0" width="3.0" height="4.0" class="f" shape-rendering="crispEdges"/>
<polygon points="53.5,640.5 52.6,643.0 54.4,643.0" class="f"/>
<text transform="translate(44.2,680) rotate(-90)" x="0" y="4.0" font-size="11" text-anchor="middle" font-weight="bold">Φ120</text>
<text transform="translate(41,659.5) rotate(-90)" x="0" y="2.5" font-size="7" text-anchor="middle" font-weight="bold">H7</text>
<line x1="127.5" y1="634.4" x2="127.5" y2="676"/>
<line x1="141.5" y1="644.5" x2="141.5" y2="696"/>
<line x1="96.6" y1="672.5" x2="152.3" y2="672.5"/>
<rect x="120.9" y="671.0" width="4.0" height="3.0" class="f" shape-rendering="crispEdges"/>
<polygon points="127.4,672.5 124.9,671.6 124.9,673.4" class="f"/>
<rect x="144.0" y="671.0" width="4.0" height="3.0" class="f" shape-rendering="crispEdges"/>
<polygon points="141.5,672.5 144.0,671.6 144.0,673.4" class="f"/>
<text x="104.7" y="667.5" font-size="11" text-anchor="middle" font-weight="bold">36</text>
<line x1="69.8" y1="691.5" x2="141.5" y2="691.5"/>
<rect x="72.3" y="690.0" width="4.0" height="3.0" class="f" shape-rendering="crispEdges"/>
<polygon points="69.8,691.5 72.3,690.6 72.3,692.4" class="f"/>
<rect x="135.0" y="690.0" width="4.0" height="3.0" class="f" shape-rendering="crispEdges"/>
<polygon points="141.5,691.5 139.0,690.6 139.0,692.4" class="f"/>
<text x="104.7" y="686.8" font-size="11" text-anchor="middle" font-weight="bold">460</text>
<path d="M150.7,644.5 L154.8,662 L175,662"/>
<path d="M180.7,650.6 L229.7,650.6 L219.1,674.2 L170.2,674.2 Z"/>
<text x="182" y="660.2" font-size="8" textLength="42" lengthAdjust="spacingAndGlyphs" style="stroke-width:0.15px">G B5781-86</text>
<text x="176" y="669.3" font-size="8" textLength="42.5" lengthAdjust="spacingAndGlyphs" style="stroke-width:0.15px">M24x60-8.8</text>
<path d="M224.9,629.9 A15.2,15.2 0 1 1 194.5,629.9 A15.2,15.2 0 1 1 224.9,629.9 Z M221.1,629.9 A11.6,11.6 0 1 0 197.9,629.9 A11.6,11.6 0 1 0 221.1,629.9 Z" fill="url(#hatch3)" fill-rule="evenodd" stroke-width="1.6"/>
<line x1="191" y1="629.5" x2="226.5" y2="629.5" stroke-dasharray="6 2 1.5 2"/>
<line x1="209.5" y1="612" x2="209.5" y2="647.6" stroke-dasharray="6 2 1.5 2"/>
<line x1="206.5" y1="598" x2="206.5" y2="618.5"/>
<line x1="212.5" y1="598" x2="212.5" y2="618.5"/>
<line x1="195.9" y1="599.5" x2="244.2" y2="599.5"/>
<rect x="200.3" y="598.0" width="4.0" height="3.0" class="f" shape-rendering="crispEdges"/>
<polygon points="206.8,599.5 204.3,598.6 204.3,600.4" class="f"/>
<rect x="215.4" y="598.0" width="4.0" height="3.0" class="f" shape-rendering="crispEdges"/>
<polygon points="212.9,599.5 215.4,598.6 215.4,600.4" class="f"/>
<text x="233.3" y="595.5" font-size="11" text-anchor="middle" font-weight="bold">32</text>
<line x1="217.6" y1="619.5" x2="262" y2="619.5"/>
<line x1="214.2" y1="640.5" x2="262" y2="640.5"/>
<line x1="259.5" y1="606.8" x2="259.5" y2="687.6"/>
<rect x="258.0" y="612.5" width="3.0" height="4.0" class="f" shape-rendering="crispEdges"/>
<polygon points="259.5,619.0 258.6,616.5 260.4,616.5" class="f"/>
<rect x="258.0" y="643.3" width="3.0" height="4.0" class="f" shape-rendering="crispEdges"/>
<polygon points="259.5,640.8 258.6,643.3 260.4,643.3" class="f"/>
<text transform="translate(251.8,670.7) rotate(-90)" x="0" y="4.0" font-size="11" text-anchor="middle" font-weight="bold">127.4</text>
<line x1="394.5" y1="565.8" x2="394.5" y2="651.5"/>
<rect x="393.0" y="614.0" width="3.0" height="4.0" class="f" shape-rendering="crispEdges"/>
<polygon points="394.5,620.5 393.6,618.0 395.4,618.0" class="f"/>
<rect x="393.0" y="643.6" width="3.0" height="4.0" class="f" shape-rendering="crispEdges"/>
<polygon points="394.5,641.1 393.6,643.6 395.4,643.6" class="f"/>
<text transform="translate(385.2,593.9) rotate(-90)" x="0" y="4.0" font-size="11" text-anchor="middle" font-weight="bold">Φ125</text>
<text transform="translate(381.6,572.3) rotate(-90)" x="0" y="2.5" font-size="7" text-anchor="middle" font-weight="bold">H7</text>
<line x1="535.5" y1="565.8" x2="535.5" y2="651.5"/>
<rect x="534.0" y="613.9" width="3.0" height="4.0" class="f" shape-rendering="crispEdges"/>
<polygon points="535.5,620.4 534.6,617.9 536.4,617.9" class="f"/>
<rect x="534.0" y="643.0" width="3.0" height="4.0" class="f" shape-rendering="crispEdges"/>
<polygon points="535.5,640.5 534.6,643.0 536.4,643.0" class="f"/>
<text transform="translate(527.7,591.4) rotate(-90)" x="0" y="4.0" font-size="11" text-anchor="middle" font-weight="bold">Φ125</text>
<text transform="translate(524.1,572) rotate(-90)" x="0" y="2.5" font-size="7" text-anchor="middle" font-weight="bold">H7</text>
<line x1="365" y1="616.5" x2="421.5" y2="616.5"/>
<line x1="365" y1="644.5" x2="421.5" y2="644.5"/>
<line x1="393.2" y1="620.5" x2="421.5" y2="620.5"/>
<line x1="393.2" y1="641.5" x2="421.5" y2="641.5"/>
<line x1="504.7" y1="620.5" x2="536.6" y2="620.5"/>
<line x1="504.7" y1="640.5" x2="536.6" y2="640.5"/>
<line x1="366.5" y1="616.6" x2="366.5" y2="644.3"/>
<rect x="365.0" y="619.1" width="3.0" height="4.0" class="f" shape-rendering="crispEdges"/>
<polygon points="366.5,616.6 365.6,619.1 367.4,619.1" class="f"/>
<rect x="365.0" y="637.8" width="3.0" height="4.0" class="f" shape-rendering="crispEdges"/>
<polygon points="366.5,644.3 365.6,641.8 367.4,641.8" class="f"/>
<text transform="translate(357.9,629.8) rotate(-90)" x="0" y="4.0" font-size="11" text-anchor="middle" font-weight="bold">Φ155</text>
<path d="M421.5,617.7 L441.3,617.7 L441.3,615.5 L464.4,615.5 L464.4,613.4 L483.6,613.4 L483.6,615.5 L504.7,615.5 L504.7,620.4 L421.5,620.4 Z" fill="url(#hatch)"/>
<path d="M421.5,643.2 L441.3,643.2 L441.3,645.1 L464.4,645.1 L464.4,648 L483.6,648 L483.6,645.1 L504.7,645.1 L504.7,640.6 L421.5,640.6 Z" fill="url(#hatch)"/>
<line x1="433.0" y1="620.5" x2="433.0" y2="641.1" stroke-width="2"/>
<line x1="491.0" y1="618.4" x2="491.0" y2="641.4" stroke-width="2"/>
<line x1="421.5" y1="578" x2="421.5" y2="665"/>
<line x1="504.5" y1="578" x2="504.5" y2="665"/>
<line x1="417.3" y1="630.5" x2="509.4" y2="630.5" stroke-dasharray="6 2 1.5 2"/>
<rect x="492" y="606" width="12.4" height="9.4" stroke-width="1.2" fill="#000"/>
<rect x="492" y="645.8" width="12.4" height="9.8" stroke-width="1.2" fill="#000"/>
<g stroke="#fff" stroke-width="0.8" fill="none"><path d="M493.5,607.5 L496.5,610.5 M496.5,607.5 L493.5,610.5 M498,607.3 V610.8 M501.5,607.5 a1.6,1.6 0 1 0 0.01,0 M493.5,614 L495,612 L496.5,614 L498,612 L499.5,614 L501,612 L502.5,614"/><path d="M493.5,647.5 L495,649.5 L496.5,647.5 L498,649.5 L499.5,647.5 L501,649.5 L502.5,647.5 M493.5,651 L496.5,654 M496.5,651 L493.5,654 M498,651 V654.3 M499.5,651 L502.5,654 M502.5,651 L499.5,654"/></g>
<line x1="421.5" y1="579.5" x2="504.7" y2="579.5"/>
<rect x="424.0" y="578.0" width="4.0" height="3.0" class="f" shape-rendering="crispEdges"/>
<polygon points="421.5,579.5 424.0,578.6 424.0,580.4" class="f"/>
<rect x="498.2" y="578.0" width="4.0" height="3.0" class="f" shape-rendering="crispEdges"/>
<polygon points="504.7,579.5 502.2,578.6 502.2,580.4" class="f"/>
<text x="461.8" y="575.2" font-size="11" text-anchor="middle" font-weight="bold">580</text>
<line x1="410.4" y1="602.5" x2="444.2" y2="602.5"/>
<rect x="415.0" y="601.0" width="4.0" height="3.0" class="f" shape-rendering="crispEdges"/>
<polygon points="421.5,602.5 419.0,601.6 419.0,603.4" class="f"/>
<rect x="436.0" y="601.0" width="4.0" height="3.0" class="f" shape-rendering="crispEdges"/>
<polygon points="433.5,602.5 436.0,601.6 436.0,603.4" class="f"/>
<line x1="433.5" y1="601" x2="433.5" y2="617"/>
<text x="425.6" y="597.9" font-size="11" text-anchor="middle" font-weight="bold">80</text>
<line x1="478.8" y1="602.5" x2="515.5" y2="602.5"/>
<rect x="484.2" y="601.0" width="4.0" height="3.0" class="f" shape-rendering="crispEdges"/>
<polygon points="490.7,602.5 488.2,601.6 488.2,603.4" class="f"/>
<rect x="507.2" y="601.0" width="4.0" height="3.0" class="f" shape-rendering="crispEdges"/>
<polygon points="504.7,602.5 507.2,601.6 507.2,603.4" class="f"/>
<line x1="490.5" y1="601" x2="490.5" y2="618"/>
<text x="496.8" y="598.2" font-size="11" text-anchor="middle" font-weight="bold">90</text>
<line x1="367.9" y1="710.5" x2="537.4" y2="710.5"/>
<line x1="367.9" y1="730.5" x2="537.4" y2="730.5"/>
<line x1="421.6" y1="730.0" x2="504.7" y2="730.0" stroke-width="2.2"/>
<path d="M421.2,706.6 L403.2,706.6 Q398,712 401,720 Q399,727 403.2,734.7 L421.2,734.7" stroke-width="1.3"/>
<ellipse cx="403.2" cy="727.5" rx="3.2" ry="6.5" fill="url(#hatch3)" stroke-width="1"/>
<line x1="421.5" y1="665" x2="421.5" y2="735.4" stroke-width="1.3"/>
<line x1="434.5" y1="691" x2="434.5" y2="730.4"/>
<line x1="489.5" y1="691" x2="489.5" y2="730.8"/>
<line x1="504.5" y1="665" x2="504.5" y2="730.8" stroke-width="1.2"/>
<line x1="395.3" y1="720.5" x2="508" y2="720.5" stroke-dasharray="6 2 1.5 2"/>
<line x1="410.4" y1="692.5" x2="466" y2="692.5"/>
<rect x="415.1" y="691.0" width="4.0" height="3.0" class="f" shape-rendering="crispEdges"/>
<polygon points="421.6,692.5 419.1,691.6 419.1,693.4" class="f"/>
<rect x="437.1" y="691.0" width="4.0" height="3.0" class="f" shape-rendering="crispEdges"/>
<polygon points="434.6,692.5 437.1,691.6 437.1,693.4" class="f"/>
<text x="455.5" y="687.1" font-size="11" text-anchor="middle" font-weight="bold">90</text>
<line x1="477.8" y1="692.5" x2="537" y2="692.5"/>
<rect x="482.7" y="691.0" width="4.0" height="3.0" class="f" shape-rendering="crispEdges"/>
<polygon points="489.2,692.5 486.7,691.6 486.7,693.4" class="f"/>
<rect x="507.2" y="691.0" width="4.0" height="3.0" class="f" shape-rendering="crispEdges"/>
<polygon points="504.7,692.5 507.2,691.6 507.2,693.4" class="f"/>
<text x="528.2" y="687.1" font-size="11" text-anchor="middle" font-weight="bold">100</text>
<line x1="369.5" y1="698.7" x2="369.5" y2="785"/>
<rect x="368.0" y="703.7" width="3.0" height="4.0" class="f" shape-rendering="crispEdges"/>
<polygon points="369.5,710.2 368.6,707.7 370.4,707.7" class="f"/>
<rect x="368.0" y="732.9" width="3.0" height="4.0" class="f" shape-rendering="crispEdges"/>
<polygon points="369.5,730.4 368.6,732.9 370.4,732.9" class="f"/>
<text transform="translate(361,768) rotate(-90)" x="0" y="4.0" font-size="11" text-anchor="middle" font-weight="bold">Φ125</text>
<text transform="translate(363.5,750.2) rotate(-90)" x="0" y="3.1" font-size="8.5" text-anchor="middle" font-weight="bold">j6</text>
<line x1="536.5" y1="699.4" x2="536.5" y2="785.1"/>
<rect x="535.0" y="703.7" width="3.0" height="4.0" class="f" shape-rendering="crispEdges"/>
<polygon points="536.5,710.2 535.6,707.7 537.4,707.7" class="f"/>
<rect x="535.0" y="732.9" width="3.0" height="4.0" class="f" shape-rendering="crispEdges"/>
<polygon points="536.5,730.4 535.6,732.9 537.4,732.9" class="f"/>
<text transform="translate(528.2,768) rotate(-90)" x="0" y="4.0" font-size="11" text-anchor="middle" font-weight="bold">Φ125</text>
<text transform="translate(530.6,750.2) rotate(-90)" x="0" y="3.1" font-size="8.5" text-anchor="middle" font-weight="bold">j6</text>
</g>
</svg>
</body></html>
